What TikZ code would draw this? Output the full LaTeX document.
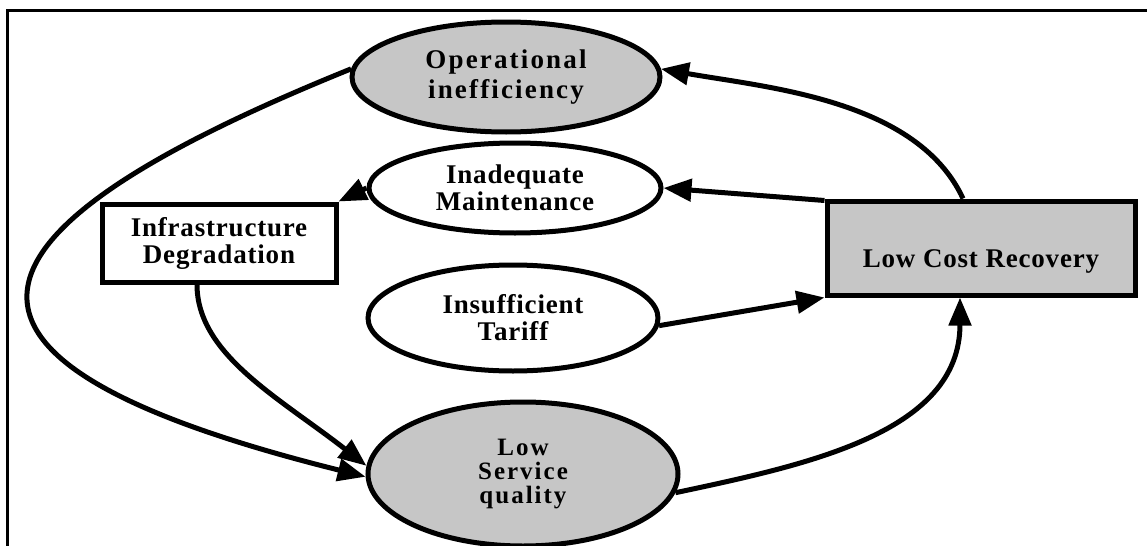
\documentclass[tikz,border=0pt]{standalone}
\usepackage{fontspec}
\setmainfont{Liberation Serif}
\newfontfamily\capfont[LetterSpace=3]{Liberation Serif}
\newfontfamily\widefont[LetterSpace=8]{Liberation Serif}
\usepackage{tikz}
\usetikzlibrary{arrows.meta,shapes.geometric}
\usepackage{xcolor}

\begin{document}
\begin{tikzpicture}[x=0.5pt,y=-0.5pt,->,>={Triangle[length=14pt,width=11pt]},
                    line width=2.5pt,
                    every node/.style={font=\capfont\bfseries\fontsize{13.5}{13.5}\selectfont,align=center}]
  \tikzstyle{cause}=[ellipse,draw=black,fill=white,text=black,inner sep=0pt]
  \tikzstyle{effect}=[rectangle,draw=black,fill=white,text=black,inner sep=0pt]
  \useasboundingbox (0,0) rectangle (1147,546);
  \draw[-,line width=1.5pt] (7,546) |- (1147,10);

  \node[cause, fill=gray!45, minimum width=154pt, minimum height=55pt,
        font=\widefont\bfseries\fontsize{13.5}{15}\selectfont]          (ops)     at (506,77)  {Operational\\inefficiency};
  \node[cause, minimum width=146pt, minimum height=45pt]                (maint)   at (515,188) {Inadequate\\Maintenance};
  \node[cause, minimum width=145pt, minimum height=53pt]                (tariff)  at (513,318) {Insufficient\\Tariff};
  \node[cause, fill=gray!45, minimum width=155pt, minimum height=72pt,
        font=\widefont\bfseries\fontsize{12.5}{12}\selectfont]          (quality) at (523,474) {Low\\Service\\quality};
  \node[effect, minimum width=117pt, minimum height=39pt]               (degr)    at (219,243) {Infrastructure\\Degradation};
  \node[effect, fill=gray!45, minimum width=154pt, minimum height=47pt,
        text height=22pt, text depth=3pt]                                (recov)   at (981,248) {Low Cost Recovery};

  \path ([xshift=-9pt]recov.north)       edge[out=115,in=-10,looseness=0.85]  (ops.3)
        ([yshift=-1pt]recov.north west)  edge                                  (maint.east)
        (tariff.-3)                      edge                                  (recov.south west)
        (quality.-7)                     edge[out=12,in=-90]                   ([xshift=-10.5pt]recov.south)
        (maint.west)                     edge                                  (degr.north east)
        ([xshift=-11pt]degr.south)       edge[out=-90,in=142,out distance=35pt,in distance=55pt] (quality.177)
        (ops.177)                        edge[out=202,in=166,out distance=228pt,in distance=233pt] (quality.181);
\end{tikzpicture}
\end{document}
